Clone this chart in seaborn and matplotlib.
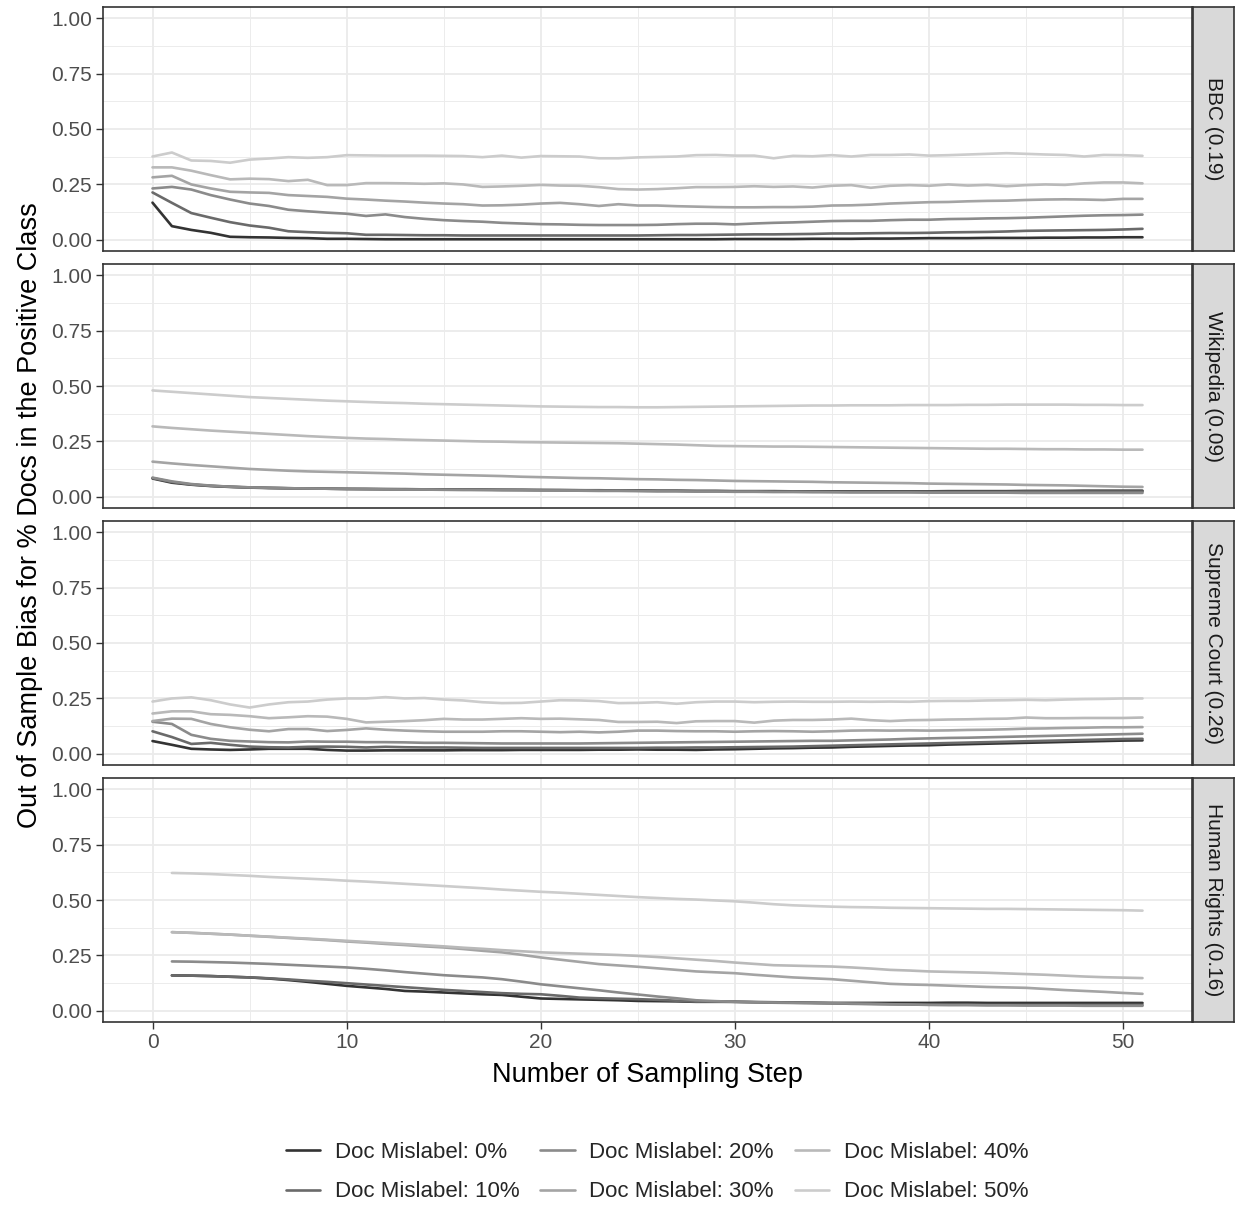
import numpy as np
import pandas as pd
import matplotlib
matplotlib.use("Agg")
import matplotlib.pyplot as plt
import seaborn as sns
from matplotlib.lines import Line2D
from matplotlib.ticker import FixedLocator

# ---------------- data ----------------
panels = ["BBC (0.19)", "Wikipedia (0.09)", "Supreme Court (0.26)", "Human Rights (0.16)"]
levels = ["Doc Mislabel: 0%", "Doc Mislabel: 10%", "Doc Mislabel: 20%",
          "Doc Mislabel: 30%", "Doc Mislabel: 40%", "Doc Mislabel: 50%"]
colors = ["#333333", "#6A6A6A", "#8B8B8B", "#A4A4A4", "#B9B9B9", "#CCCCCC"]

steps_full = list(range(0, 52))
steps_hr = list(range(1, 52))

bbc_0 = [0.168, 0.062, 0.045, 0.032, 0.014, 0.012, 0.011, 0.009, 0.008, 0.005,
         0.005, 0.004, 0.003, 0.003, 0.003, 0.003, 0.003, 0.003, 0.003, 0.003,
         0.003, 0.003, 0.003, 0.003, 0.003, 0.003, 0.003, 0.003, 0.003, 0.003,
         0.004, 0.004, 0.004, 0.004, 0.005, 0.005, 0.005, 0.006, 0.006, 0.007,
         0.008, 0.008, 0.008, 0.009, 0.009, 0.009, 0.010, 0.010, 0.011, 0.011,
         0.012, 0.012]
bbc_10 = [0.214, 0.167, 0.121, 0.100, 0.080, 0.065, 0.055, 0.039, 0.035, 0.032,
          0.030, 0.023, 0.023, 0.022, 0.021, 0.021, 0.020, 0.020, 0.020, 0.020,
          0.020, 0.020, 0.020, 0.020, 0.020, 0.020, 0.021, 0.022, 0.022, 0.023,
          0.024, 0.025, 0.025, 0.026, 0.027, 0.029, 0.029, 0.030, 0.031, 0.031,
          0.032, 0.034, 0.035, 0.036, 0.038, 0.041, 0.042, 0.043, 0.044, 0.045,
          0.047, 0.050]
bbc_20 = [0.232, 0.239, 0.227, 0.202, 0.182, 0.164, 0.153, 0.136, 0.129, 0.123,
          0.118, 0.108, 0.115, 0.103, 0.095, 0.089, 0.085, 0.082, 0.077, 0.074,
          0.071, 0.070, 0.068, 0.067, 0.067, 0.067, 0.068, 0.071, 0.073, 0.073,
          0.070, 0.074, 0.077, 0.079, 0.082, 0.085, 0.086, 0.086, 0.089, 0.091,
          0.091, 0.094, 0.095, 0.097, 0.098, 0.100, 0.103, 0.106, 0.109, 0.111,
          0.112, 0.114]
bbc_30 = [0.282, 0.289, 0.250, 0.232, 0.217, 0.214, 0.212, 0.202, 0.198, 0.194,
          0.186, 0.182, 0.177, 0.173, 0.168, 0.164, 0.161, 0.155, 0.156, 0.159,
          0.164, 0.167, 0.161, 0.153, 0.161, 0.155, 0.155, 0.152, 0.150, 0.148,
          0.147, 0.147, 0.148, 0.148, 0.150, 0.155, 0.156, 0.159, 0.164, 0.167,
          0.170, 0.171, 0.174, 0.176, 0.177, 0.180, 0.182, 0.183, 0.182, 0.180,
          0.185, 0.185]
bbc_40 = [0.327, 0.327, 0.312, 0.292, 0.273, 0.276, 0.274, 0.265, 0.271, 0.247,
          0.247, 0.256, 0.256, 0.255, 0.253, 0.255, 0.250, 0.239, 0.241, 0.244,
          0.248, 0.245, 0.244, 0.238, 0.229, 0.227, 0.229, 0.233, 0.238, 0.238,
          0.239, 0.242, 0.239, 0.241, 0.236, 0.244, 0.247, 0.235, 0.244, 0.247,
          0.244, 0.250, 0.245, 0.248, 0.242, 0.247, 0.250, 0.248, 0.255, 0.259,
          0.259, 0.255]
bbc_50 = [0.376, 0.394, 0.358, 0.356, 0.348, 0.362, 0.367, 0.373, 0.370, 0.373,
          0.382, 0.381, 0.380, 0.380, 0.380, 0.379, 0.378, 0.373, 0.380, 0.371,
          0.378, 0.377, 0.376, 0.368, 0.368, 0.372, 0.374, 0.376, 0.382, 0.383,
          0.380, 0.380, 0.368, 0.379, 0.377, 0.382, 0.376, 0.383, 0.383, 0.385,
          0.380, 0.382, 0.385, 0.388, 0.391, 0.388, 0.385, 0.383, 0.376, 0.383,
          0.382, 0.379]

wiki_0 = [0.083, 0.064, 0.055, 0.049, 0.045, 0.042, 0.040, 0.039, 0.038, 0.037,
          0.036, 0.036, 0.035, 0.035, 0.034, 0.034, 0.033, 0.033, 0.032, 0.032,
          0.031, 0.031, 0.030, 0.030, 0.029, 0.029, 0.028, 0.028, 0.027, 0.027,
          0.026, 0.026, 0.026, 0.025, 0.025, 0.025, 0.025, 0.025, 0.025, 0.025,
          0.025, 0.026, 0.026, 0.026, 0.026, 0.027, 0.027, 0.027, 0.028, 0.028,
          0.028, 0.028]
wiki_10 = [0.085, 0.067, 0.056, 0.050, 0.046, 0.043, 0.041, 0.039, 0.038, 0.037,
           0.036, 0.035, 0.035, 0.034, 0.034, 0.033, 0.033, 0.032, 0.032, 0.031,
           0.031, 0.030, 0.030, 0.029, 0.029, 0.028, 0.027, 0.027, 0.026, 0.026,
           0.025, 0.025, 0.024, 0.024, 0.024, 0.023, 0.023, 0.023, 0.023, 0.023,
           0.023, 0.023, 0.023, 0.023, 0.023, 0.024, 0.024, 0.024, 0.024, 0.024,
           0.024, 0.024]
wiki_20 = [0.087, 0.070, 0.058, 0.051, 0.046, 0.043, 0.041, 0.039, 0.038, 0.037,
           0.036, 0.035, 0.034, 0.033, 0.033, 0.032, 0.031, 0.031, 0.030, 0.030,
           0.029, 0.029, 0.028, 0.027, 0.027, 0.026, 0.025, 0.025, 0.024, 0.024,
           0.023, 0.023, 0.022, 0.022, 0.021, 0.021, 0.020, 0.020, 0.020, 0.020,
           0.019, 0.019, 0.019, 0.019, 0.019, 0.018, 0.018, 0.018, 0.018, 0.018,
           0.018, 0.018]
wiki_30 = [0.159, 0.151, 0.144, 0.138, 0.132, 0.126, 0.122, 0.118, 0.115, 0.113,
           0.111, 0.109, 0.107, 0.105, 0.102, 0.100, 0.098, 0.096, 0.094, 0.091,
           0.089, 0.087, 0.085, 0.084, 0.082, 0.080, 0.079, 0.077, 0.076, 0.074,
           0.072, 0.071, 0.070, 0.069, 0.068, 0.066, 0.065, 0.064, 0.063, 0.062,
           0.060, 0.059, 0.058, 0.057, 0.056, 0.054, 0.053, 0.052, 0.050, 0.048,
           0.046, 0.045]
wiki_40 = [0.318, 0.311, 0.305, 0.299, 0.294, 0.289, 0.284, 0.279, 0.274, 0.270,
           0.266, 0.263, 0.261, 0.258, 0.256, 0.254, 0.252, 0.250, 0.249, 0.247,
           0.246, 0.245, 0.244, 0.243, 0.242, 0.240, 0.238, 0.236, 0.233, 0.230,
           0.229, 0.228, 0.227, 0.227, 0.226, 0.225, 0.224, 0.223, 0.222, 0.221,
           0.220, 0.219, 0.218, 0.217, 0.217, 0.216, 0.215, 0.215, 0.214, 0.214,
           0.213, 0.213]
wiki_50 = [0.480, 0.474, 0.468, 0.462, 0.456, 0.450, 0.446, 0.442, 0.438, 0.434,
           0.431, 0.428, 0.425, 0.423, 0.420, 0.418, 0.416, 0.414, 0.412, 0.410,
           0.408, 0.407, 0.406, 0.405, 0.405, 0.404, 0.404, 0.405, 0.406, 0.407,
           0.408, 0.409, 0.410, 0.411, 0.412, 0.412, 0.413, 0.413, 0.413, 0.414,
           0.414, 0.414, 0.415, 0.415, 0.416, 0.416, 0.416, 0.416, 0.415, 0.415,
           0.414, 0.414]

sc_0 = [0.058, 0.041, 0.023, 0.020, 0.018, 0.020, 0.023, 0.023, 0.023, 0.018,
        0.015, 0.015, 0.016, 0.016, 0.016, 0.016, 0.017, 0.017, 0.017, 0.018,
        0.018, 0.018, 0.018, 0.019, 0.019, 0.020, 0.019, 0.019, 0.018, 0.020,
        0.021, 0.023, 0.025, 0.026, 0.028, 0.029, 0.032, 0.034, 0.036, 0.038,
        0.039, 0.042, 0.044, 0.046, 0.048, 0.050, 0.052, 0.054, 0.056, 0.058,
        0.060, 0.061]
sc_10 = [0.102, 0.076, 0.045, 0.050, 0.041, 0.033, 0.030, 0.029, 0.032, 0.033,
         0.032, 0.029, 0.032, 0.030, 0.029, 0.029, 0.028, 0.027, 0.027, 0.027,
         0.027, 0.027, 0.027, 0.027, 0.027, 0.027, 0.028, 0.028, 0.029, 0.029,
         0.030, 0.031, 0.032, 0.033, 0.035, 0.037, 0.039, 0.041, 0.043, 0.045,
         0.047, 0.049, 0.051, 0.053, 0.055, 0.057, 0.059, 0.061, 0.063, 0.065,
         0.067, 0.068]
sc_20 = [0.145, 0.135, 0.086, 0.068, 0.059, 0.056, 0.053, 0.052, 0.056, 0.055,
         0.055, 0.053, 0.053, 0.052, 0.050, 0.050, 0.049, 0.048, 0.047, 0.047,
         0.047, 0.047, 0.047, 0.048, 0.049, 0.050, 0.051, 0.052, 0.053, 0.054,
         0.055, 0.056, 0.057, 0.058, 0.059, 0.059, 0.061, 0.063, 0.065, 0.068,
         0.070, 0.072, 0.073, 0.075, 0.077, 0.079, 0.081, 0.083, 0.085, 0.087,
         0.089, 0.091]
sc_30 = [0.148, 0.159, 0.158, 0.135, 0.120, 0.109, 0.102, 0.112, 0.112, 0.103,
         0.108, 0.115, 0.109, 0.105, 0.102, 0.100, 0.100, 0.100, 0.102, 0.102,
         0.100, 0.098, 0.100, 0.097, 0.100, 0.105, 0.105, 0.103, 0.102, 0.102,
         0.100, 0.102, 0.103, 0.102, 0.100, 0.102, 0.105, 0.106, 0.105, 0.106,
         0.105, 0.106, 0.108, 0.109, 0.111, 0.114, 0.115, 0.117, 0.118, 0.120,
         0.120, 0.121]
sc_40 = [0.182, 0.192, 0.192, 0.179, 0.176, 0.170, 0.161, 0.165, 0.170, 0.168,
         0.158, 0.142, 0.145, 0.148, 0.152, 0.158, 0.155, 0.155, 0.158, 0.161,
         0.158, 0.159, 0.156, 0.153, 0.144, 0.144, 0.145, 0.139, 0.147, 0.148,
         0.148, 0.141, 0.150, 0.153, 0.153, 0.155, 0.159, 0.152, 0.148, 0.152,
         0.153, 0.155, 0.156, 0.158, 0.159, 0.164, 0.161, 0.161, 0.162, 0.162,
         0.162, 0.164]
sc_50 = [0.236, 0.250, 0.255, 0.242, 0.223, 0.209, 0.223, 0.233, 0.236, 0.245,
         0.250, 0.250, 0.256, 0.250, 0.252, 0.245, 0.241, 0.233, 0.229, 0.230,
         0.236, 0.242, 0.241, 0.238, 0.229, 0.230, 0.233, 0.226, 0.233, 0.236,
         0.236, 0.233, 0.235, 0.236, 0.235, 0.235, 0.236, 0.235, 0.236, 0.235,
         0.238, 0.239, 0.239, 0.241, 0.242, 0.244, 0.242, 0.245, 0.247, 0.248,
         0.250, 0.250]

hr_0 = [0.160, 0.159, 0.157, 0.154, 0.151, 0.146, 0.139, 0.131, 0.122, 0.113,
        0.106, 0.099, 0.090, 0.087, 0.083, 0.079, 0.075, 0.072, 0.064, 0.056,
        0.054, 0.052, 0.050, 0.048, 0.045, 0.044, 0.043, 0.041, 0.041, 0.041,
        0.040, 0.039, 0.038, 0.037, 0.036, 0.036, 0.036, 0.036, 0.036, 0.036,
        0.037, 0.037, 0.036, 0.036, 0.036, 0.036, 0.036, 0.036, 0.036, 0.036,
        0.036]
hr_10 = [0.160, 0.159, 0.157, 0.154, 0.151, 0.147, 0.142, 0.136, 0.131, 0.125,
         0.119, 0.113, 0.107, 0.101, 0.095, 0.090, 0.085, 0.080, 0.077, 0.075,
         0.068, 0.060, 0.057, 0.055, 0.053, 0.050, 0.046, 0.042, 0.042, 0.041,
         0.039, 0.037, 0.036, 0.035, 0.034, 0.032, 0.031, 0.030, 0.029, 0.028,
         0.028, 0.028, 0.027, 0.027, 0.027, 0.027, 0.027, 0.027, 0.027, 0.027,
         0.027]
hr_20 = [0.223, 0.222, 0.220, 0.218, 0.215, 0.212, 0.208, 0.204, 0.200, 0.196,
         0.190, 0.183, 0.175, 0.168, 0.161, 0.156, 0.151, 0.143, 0.132, 0.120,
         0.111, 0.102, 0.093, 0.083, 0.074, 0.065, 0.057, 0.048, 0.044, 0.041,
         0.039, 0.038, 0.037, 0.036, 0.035, 0.033, 0.032, 0.030, 0.029, 0.027,
         0.026, 0.026, 0.025, 0.025, 0.024, 0.024, 0.024, 0.023, 0.023, 0.023,
         0.023]
hr_30 = [0.355, 0.352, 0.348, 0.344, 0.339, 0.334, 0.329, 0.324, 0.319, 0.313,
         0.308, 0.302, 0.297, 0.291, 0.286, 0.279, 0.271, 0.264, 0.253, 0.241,
         0.231, 0.221, 0.211, 0.205, 0.199, 0.192, 0.185, 0.178, 0.174, 0.170,
         0.163, 0.157, 0.151, 0.147, 0.143, 0.136, 0.129, 0.122, 0.119, 0.117,
         0.114, 0.111, 0.108, 0.106, 0.104, 0.099, 0.094, 0.090, 0.086, 0.081,
         0.077]
hr_40 = [0.355, 0.352, 0.348, 0.344, 0.339, 0.335, 0.330, 0.326, 0.321, 0.316,
         0.311, 0.306, 0.301, 0.296, 0.291, 0.285, 0.280, 0.274, 0.269, 0.264,
         0.261, 0.258, 0.255, 0.252, 0.248, 0.243, 0.237, 0.231, 0.225, 0.218,
         0.212, 0.206, 0.204, 0.202, 0.200, 0.196, 0.191, 0.185, 0.182, 0.178,
         0.176, 0.174, 0.172, 0.169, 0.166, 0.163, 0.159, 0.155, 0.152, 0.150,
         0.148]
hr_50 = [0.622, 0.620, 0.617, 0.613, 0.609, 0.604, 0.600, 0.596, 0.592, 0.587,
         0.583, 0.578, 0.573, 0.568, 0.563, 0.558, 0.553, 0.547, 0.542, 0.537,
         0.533, 0.528, 0.523, 0.518, 0.513, 0.509, 0.505, 0.502, 0.498, 0.494,
         0.488, 0.481, 0.476, 0.473, 0.470, 0.468, 0.467, 0.465, 0.464, 0.463,
         0.462, 0.461, 0.460, 0.460, 0.459, 0.458, 0.457, 0.456, 0.455, 0.454,
         0.452]

series = {
    panels[0]: (steps_full, [bbc_0, bbc_10, bbc_20, bbc_30, bbc_40, bbc_50]),
    panels[1]: (steps_full, [wiki_0, wiki_10, wiki_20, wiki_30, wiki_40, wiki_50]),
    panels[2]: (steps_full, [sc_0, sc_10, sc_20, sc_30, sc_40, sc_50]),
    panels[3]: (steps_hr, [hr_0, hr_10, hr_20, hr_30, hr_40, hr_50]),
}

x_ticks = [0, 10, 20, 30, 40, 50]
y_ticks = [0.00, 0.25, 0.50, 0.75, 1.00]
y_ticklabels = ["0.00", "0.25", "0.50", "0.75", "1.00"]

rows = []
for p, (st, vals) in series.items():
    for lev, v in zip(levels, vals):
        for s, y in zip(st, v):
            rows.append({"panel": p, "step": s, "bias": y, "mislabel": lev})
df = pd.DataFrame(rows)

# ---------------- style ----------------
sns.set_style("white")
plt.rcParams["font.family"] = ["Liberation Sans", "DejaVu Sans"]

W, H = 1238, 1205
fig = plt.figure(figsize=(W / 100, H / 100), dpi=100)

left_px, right_px = 103, 1192
panel_h = 244
tops = [7, 264, 521, 778]
palette = dict(zip(levels, colors))

axes = []
for i, p in enumerate(panels):
    top = tops[i]
    rect = [left_px / W, 1 - (top + panel_h) / H, (right_px - left_px) / W, panel_h / H]
    ax = fig.add_axes(rect)
    sub = df[df["panel"] == p]
    sns.lineplot(data=sub, x="step", y="bias", hue="mislabel", hue_order=levels,
                 palette=palette, estimator=None, linewidth=1.9, legend=False, ax=ax)
    ax.set_xlim(-2.55, 53.55)
    ax.set_ylim(-0.05, 1.05)
    ax.set_xlabel("")
    ax.set_ylabel("")
    ax.xaxis.set_major_locator(FixedLocator(x_ticks))
    ax.xaxis.set_minor_locator(FixedLocator([5, 15, 25, 35, 45]))
    ax.yaxis.set_major_locator(FixedLocator(y_ticks))
    ax.yaxis.set_minor_locator(FixedLocator([0.125, 0.375, 0.625, 0.875]))
    ax.set_yticklabels(y_ticklabels)
    ax.set_axisbelow(True)
    ax.grid(which="major", color="#EBEBEB", linewidth=1.3)
    ax.grid(which="minor", color="#EBEBEB", linewidth=0.65)
    ax.tick_params(axis="y", which="major", length=5, width=1.0, color="#333333",
                   labelcolor="#4D4D4D", labelsize=15, pad=3, left=True)
    ax.tick_params(which="minor", length=0)
    if i == len(panels) - 1:
        ax.tick_params(axis="x", which="major", length=5, width=1.0, color="#333333",
                       labelcolor="#4D4D4D", labelsize=15, pad=3, bottom=True)
        ax.set_xticklabels([str(t) for t in x_ticks])
    else:
        ax.tick_params(axis="x", which="major", length=0, labelbottom=False)
    for sp in ax.spines.values():
        sp.set_color("#333333")
        sp.set_linewidth(1.2)
    axes.append(ax)

    # strip
    srect = [1193 / W, 1 - (top + panel_h) / H, 41 / W, panel_h / H]
    sax = fig.add_axes(srect)
    sax.set_facecolor("#D9D9D9")
    sax.set_xticks([])
    sax.set_yticks([])
    for sp in sax.spines.values():
        sp.set_color("#333333")
        sp.set_linewidth(1.2)
    sax.text(0.5, 0.5, p, rotation=270, ha="center", va="center",
             fontsize=15, color="#1A1A1A", transform=sax.transAxes)

# axis titles
fig.text(647 / W, 1 - 1075 / H, "Number of Sampling Step", ha="center", va="center",
         fontsize=19.5, color="black")
fig.text(30 / W, 1 - 515 / H, "Out of Sample Bias for % Docs in the Positive Class",
         ha="center", va="center", rotation=90, fontsize=19.5, color="black")

# legend
handles = [Line2D([0], [0], color=c, lw=1.9) for c in colors]
fig.legend(handles, levels, loc="center", bbox_to_anchor=(657 / W, 1 - 1172 / H),
           ncol=3, frameon=False, fontsize=16, handlelength=1.55, handletextpad=0.65,
           columnspacing=0.95, labelspacing=0.85)

fig.savefig("out.png", dpi=100)
